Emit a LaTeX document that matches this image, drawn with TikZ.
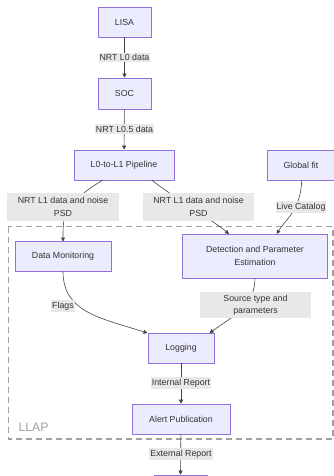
\documentclass[tikz,border=0pt]{standalone}
\usepackage{fontspec}
\setmainfont{Liberation Sans}
\usetikzlibrary{arrows.meta}
\definecolor{boxfill}{HTML}{ECECFF}
\definecolor{boxline}{HTML}{9370DB}
\definecolor{lblbg}{HTML}{E8E8E8}
\definecolor{txt}{HTML}{333333}
\definecolor{edge}{HTML}{444444}
\definecolor{clus}{HTML}{A0A0A0}
\begin{document}
\begin{tikzpicture}[x=1pt,y=-1pt,
  font=\fontsize{8.8}{12.3}\selectfont,
  procbox/.style={draw=boxline,fill=boxfill,line width=0.7pt,text=txt,inner sep=0pt,align=center},
  elabel/.style={fill=lblbg,text=txt,inner xsep=1pt,inner ysep=1.5pt,align=center},
  biglabel/.style={fill=lblbg,text=txt,inner sep=0pt,align=center,minimum width=111pt,minimum height=27pt},
  flow/.style={draw=edge,line width=0.6pt,-{Triangle[length=4pt,width=4pt]}}
]
\useasboundingbox (0,0) rectangle (334,476);
% cluster
\draw[clus,line width=1.3pt,dash pattern=on 6pt off 4pt] (8.3,226.7) rectangle (333,439);
\node[text=clus,font=\fontsize{12.3}{14}\selectfont,anchor=west] (llap) at (15,427.7) {LLAP};
% nodes
\node[procbox,minimum width=53pt,minimum height=30pt] (lisa) at (124.5,22) {LISA};
\node[procbox,minimum width=53pt,minimum height=31pt] (soc) at (124.5,93.5) {SOC};
\node[procbox,minimum width=100pt,minimum height=30pt] (pipe) at (124,165) {L0-to-L1 Pipeline};
\node[procbox,minimum width=68pt,minimum height=30pt] (gfit) at (301,165) {Global fit};
\node[procbox,minimum width=96pt,minimum height=29.6pt] (dmon) at (63,256.5) {Data Monitoring};
\node[procbox,minimum width=145pt,minimum height=44pt] (dpe) at (255,256) {Detection and Parameter\\Estimation};
\node[procbox,minimum width=66pt,minimum height=30pt] (logg) at (181,348) {Logging};
\node[procbox,minimum width=98pt,minimum height=30pt] (alert) at (181,419) {Alert Publication};
\node[procbox,minimum width=53pt,minimum height=30pt] (ext) at (180.5,490) {};
% coordinates
\coordinate (p1) at (102.7,180);
\coordinate (p2) at (151.7,180);
\coordinate (g1) at (301.7,180);
\coordinate (d1) at (63,241.5);
\coordinate (e1) at (229,234);
\coordinate (e2) at (276.7,234);
\coordinate (m1) at (63,271.3);
\coordinate (s1) at (255,278);
\coordinate (l1) at (147.5,333);
\coordinate (l2) at (209.5,333);
% edges
\draw[flow] (lisa) -- (soc);
\draw[flow] (soc) -- (pipe);
\draw[flow] (p1) .. controls (63,205) and (63,215) .. (d1);
\draw[flow] (p2) .. controls (170,195) and (210,218) .. (e1);
\draw[flow] (g1) .. controls (301,210) and (285,220) .. (e2);
\draw[flow] (m1) .. controls (63,312) and (100,318) .. (l1);
\draw[flow] (s1) .. controls (255,305) and (235,315) .. (l2);
\draw[flow] (logg) -- (alert);
\draw[flow] (alert) -- (ext.north);
% edge labels
\node[elabel] (lb1) at (124.5,57.7) {NRT L0 data};
\node[elabel] (lb2) at (124.5,129) {NRT L0.5 data};
\node[biglabel,minimum width=112pt,minimum height=28pt] (lb3) at (63,207) {NRT L1 data and noise\\PSD};
\node[biglabel,minimum width=111pt,minimum height=28pt] (lb4) at (198.5,207) {NRT L1 data and noise\\PSD};
\node[elabel] (lb5) at (301,207) {Live Catalog};
\node[elabel] (lb6) at (63,306) {Flags};
\node[biglabel,minimum width=111pt,minimum height=26pt] (lb7) at (255.5,305) {Source type and\\parameters};
\node[elabel] (lb8) at (181,383) {Internal Report};
\node[elabel] (lb9) at (181,454) {External Report};
\end{tikzpicture}
\end{document}
